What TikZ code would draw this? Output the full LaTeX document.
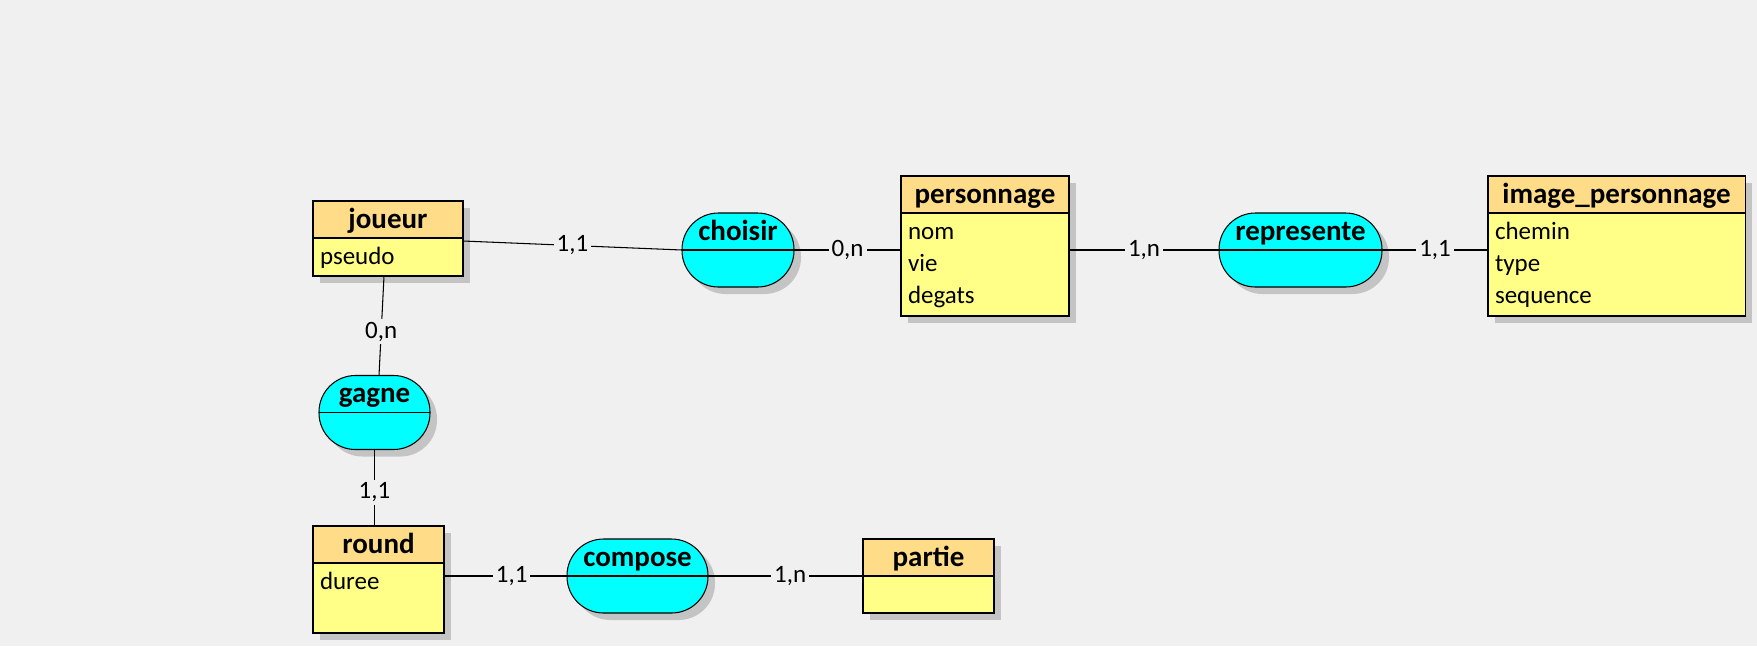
\documentclass[tikz,border=0pt]{standalone}
\usepackage{fontspec}
\setmainfont{Carlito}
\usetikzlibrary{positioning,shadows}
\definecolor{bg}{HTML}{F0F0F0}
\definecolor{headfill}{HTML}{FFDD88}
\definecolor{bodyfill}{HTML}{FFFF88}
\definecolor{assocfill}{HTML}{00FFFF}
\definecolor{shadowgray}{HTML}{C4C4C4}
\begin{document}
\begin{tikzpicture}
[
 line width=0.6pt,
 inner sep=0pt,
 outer sep=0pt,
 boxshadow/.style={drop shadow={shadow xshift=0.14cm,shadow yshift=-0.14cm,fill=shadowgray,opacity=1}},
 head/.style={draw=black,rectangle,fill=headfill,boxshadow,anchor=north west,minimum height=0.74cm,text height=0.48cm,text depth=0.14cm,font=\fontsize{16.5}{20}\selectfont\bfseries},
 body/.style={draw=black,rectangle,fill=bodyfill,boxshadow},
 attr/.style={anchor=base west,font=\fontsize{14.2}{17}\selectfont},
 assoc/.style={draw=black,rectangle,rounded corners=0.73cm,fill=assocfill,boxshadow,minimum height=1.48cm,text height=0.45cm,text depth=0.85cm,font=\fontsize{16.5}{20}\selectfont\bfseries},
 card/.style={fill=bg,inner sep=0.06cm,font=\fontsize{14.2}{17}\selectfont}
]
\fill [bg] (0,0) rectangle (35.14,-12.92);
\useasboundingbox (0,0) rectangle (35.14,-12.92);
% entites
\node (joueur-t) [head,minimum width=3cm] at (6.26,-4.02) {joueur};
\node (joueur) [body,minimum width=3cm,minimum height=0.76cm,below=0pt of joueur-t] {};
\node (pseudo) [attr] at ([shift={(0.14,-0.52)}]joueur.north west) {pseudo};
\node (personnage-t) [head,minimum width=3.36cm] at (18.02,-3.52) {personnage};
\node (personnage) [body,minimum width=3.36cm,minimum height=2.06cm,below=0pt of personnage-t] {};
\node (nom) [attr] at ([shift={(0.14,-0.52)}]personnage.north west) {nom};
\node (vie) [attr] at ([shift={(0.14,-1.16)}]personnage.north west) {vie};
\node (degats) [attr] at ([shift={(0.14,-1.80)}]personnage.north west) {degats};
\node (image-personnage-t) [head,minimum width=5.14cm] at (29.76,-3.52) {image\_personnage};
\node (image-personnage) [body,minimum width=5.14cm,minimum height=2.06cm,below=0pt of image-personnage-t] {};
\node (chemin) [attr] at ([shift={(0.14,-0.52)}]image-personnage.north west) {chemin};
\node (type) [attr] at ([shift={(0.14,-1.16)}]image-personnage.north west) {type};
\node (sequence) [attr] at ([shift={(0.14,-1.80)}]image-personnage.north west) {sequence};
\node (round-t) [head,minimum width=2.62cm] at (6.26,-10.52) {round};
\node (round) [body,minimum width=2.62cm,minimum height=1.40cm,below=0pt of round-t] {};
\node (duree) [attr] at ([shift={(0.14,-0.52)}]round.north west) {duree};
\node (partie-t) [head,minimum width=2.62cm] at (17.26,-10.78) {partie};
\node (partie) [body,minimum width=2.62cm,minimum height=0.74cm,below=0pt of partie-t] {};
% associations
\node (choisir) [assoc,minimum width=2.24cm] at (14.76,-5.0) {choisir};
\node (represente) [assoc,minimum width=3.26cm] at (26.01,-5.0) {represente};
\node (gagne) [assoc,minimum width=2.22cm] at (7.49,-8.25) {gagne};
\node (compose) [assoc,minimum width=2.82cm] at (12.75,-11.52) {compose};
\foreach \r in {choisir,represente,gagne,compose}
  \draw (\r.west) -- (\r.east);
% liens
\draw ([yshift=-0.06cm]joueur.north east) -- node [card] {1,1} (choisir.west);
\draw (choisir.east) -- node [card] {0,n} (choisir.east -| personnage.west);
\draw (represente.west -| personnage.east) -- node [card] {1,n} (represente.west);
\draw (represente.east) -- node [card] {1,1} (represente.east -| image-personnage.west);
\draw ([xshift=-0.08cm]joueur.south) -- node [card,pos=0.56] {0,n} ([xshift=0.09cm]gagne.north);
\draw (gagne.south) -- node [card,pos=0.56] {1,1} (gagne.south |- round-t.north);
\draw (compose.west -| round.east) -- node [card,pos=0.55] {1,1} (compose.west);
\draw (compose.east) -- node [card,pos=0.53] {1,n} (compose.east -| partie.west);
\end{tikzpicture}
\end{document}
